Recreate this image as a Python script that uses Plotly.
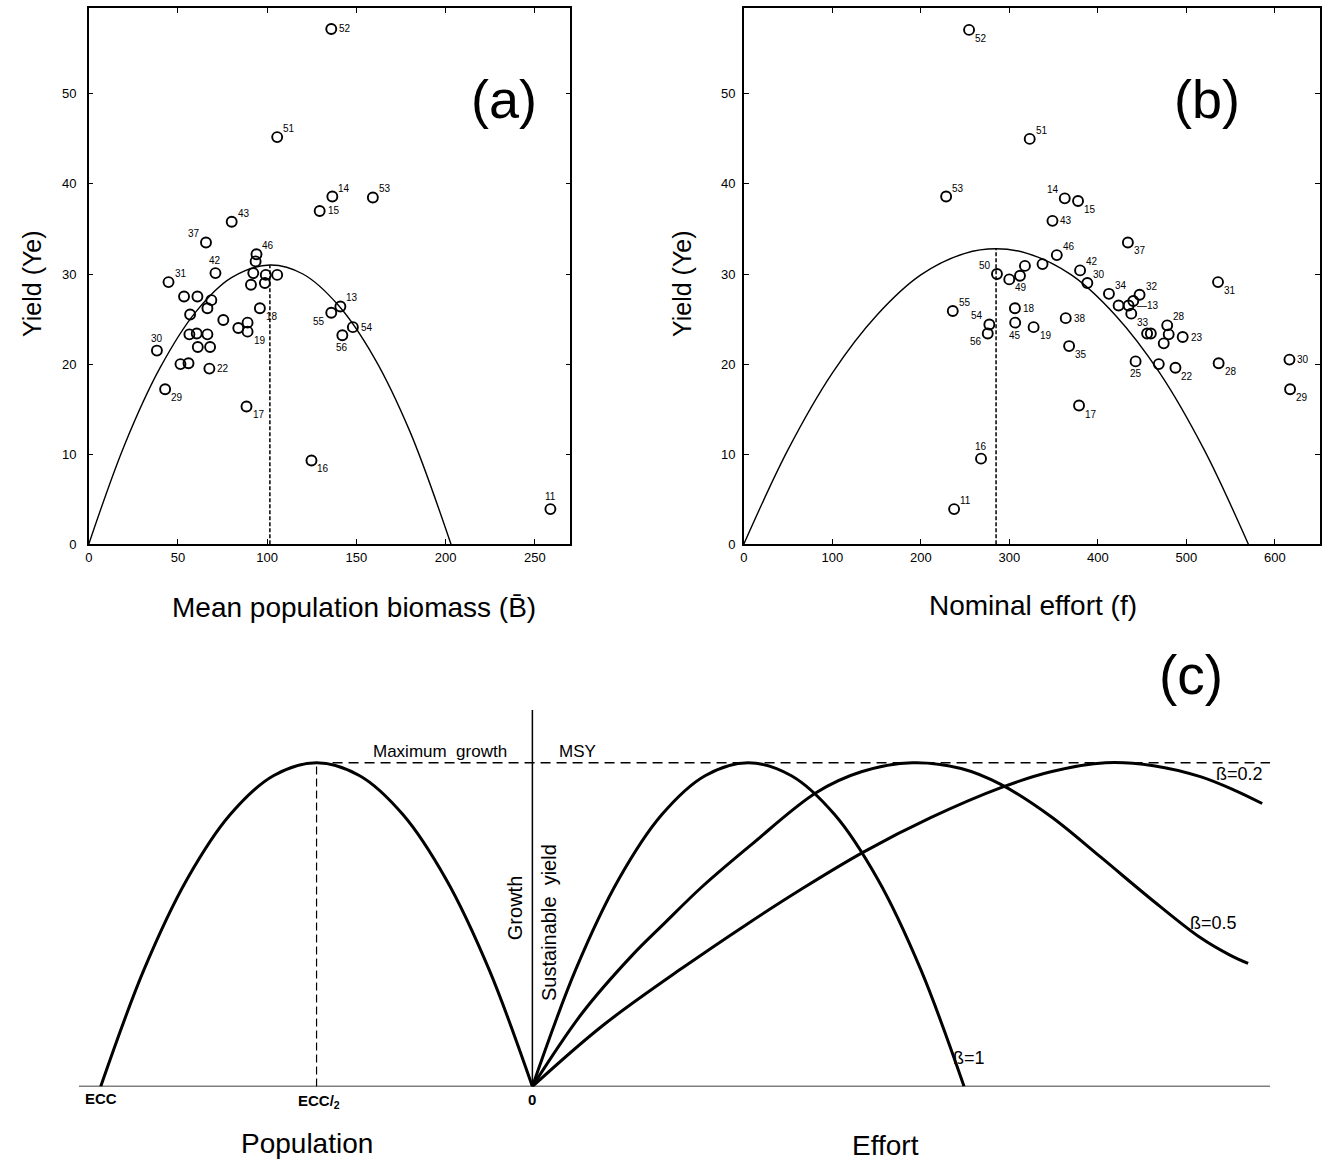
import plotly.graph_objects as go

W, H = 1322, 1167

# ---------------- DATA ----------------
# Panel (a): mean population biomass vs yield
a_x = [135.9, 105.6, 136.5, 129.4, 159.2, 80.1, 65.7, 94.0, 71.0, 93.5, 92.2, 44.7,
       99.2, 105.6, 90.9, 98.7, 53.4, 60.9, 68.7, 66.5, 56.8, 75.4, 95.9, 83.8, 89.0,
       89.0, 56.4, 60.5, 66.5, 61.1, 68.0, 38.2, 51.4, 55.9, 67.6, 42.8, 88.4, 141.0,
       135.9, 148.0, 142.1, 124.8, 258.7, 192.7]
a_y = [57.2, 45.2, 38.6, 37.0, 38.5, 35.8, 33.5, 32.2, 30.1, 31.4, 30.1, 29.1,
       29.9, 29.9, 28.8, 29.0, 27.5, 27.5, 27.1, 26.2, 25.5, 24.9, 26.2, 24.0, 24.6,
       23.6, 23.3, 23.4, 23.3, 21.9, 21.9, 21.5, 20.0, 20.1, 19.5, 17.2, 15.3, 26.4,
       25.7, 24.1, 23.2, 9.3, 3.9, -0.5]
a_lab = ["52", "51", "14", "15", "53", "43", "37", "46", "42", "", "", "31",
         "", "", "", "", "", "", "", "", "", "", "18", "", "",
         "19", "", "", "", "", "", "30", "", "", "22", "29", "17", "13",
         "55", "54", "56", "16", "11", "12"]
# fitted curve (a)
a_curve_x = [0, 20, 40, 60, 80, 101.5, 120, 140, 160, 180, 203]
a_curve_y = [0, 11.0, 19.6, 25.8, 29.6, 31.0, 30.0, 26.5, 20.7, 12.5, 0]
a_peak_x, a_peak_y = 101.5, 31.0

# Panel (b): nominal effort vs yield
b_x = [254.5, 323.0, 228.6, 362.6, 377.6, 348.7, 433.9, 353.6, 337.5, 379.9, 388.1,
       286.0, 317.6, 312.0, 299.9, 412.5, 447.1, 440.0, 423.4, 434.7, 437.7, 236.1,
       306.3, 363.7, 277.4, 275.6, 306.6, 327.4, 455.6, 459.8, 478.3, 480.0, 474.4,
       495.8, 367.5, 442.6, 468.8, 487.6, 535.7, 536.4, 616.4, 617.1, 378.7, 268.0,
       237.6, 341.0]
b_y = [57.1, 45.0, 38.6, 38.4, 38.1, 35.9, 33.5, 32.1, 31.1, 30.4, 29.0,
       30.0, 30.9, 29.8, 29.4, 27.8, 27.7, 27.0, 26.5, 26.5, 25.6, 25.9,
       26.2, 25.1, 24.4, 23.4, 24.6, 24.1, 23.4, 23.4, 24.3, 23.3, 22.3,
       23.0, 22.0, 20.3, 20.0, 19.6, 29.1, 20.1, 20.5, 17.2, 15.4, 9.5,
       3.9, -0.4]
b_lab = ["52", "51", "53", "14", "15", "43", "37", "46", "", "42", "30",
         "50", "", "", "49", "34", "32", "", "", "—13", "33", "55",
         "18", "38", "54", "56", "45", "19", "", "", "28", "", "",
         "23", "35", "25", "", "22", "31", "28", "30", "29", "17", "16",
         "11", "12"]
b_curve_x = [0, 50, 100, 150, 200, 250, 285, 320, 370, 420, 470, 520, 570]
b_curve_y = [0, 10.5, 19.0, 25.4, 29.9, 32.3, 32.8, 32.3, 29.9, 25.4, 19.0, 10.5, 0]
b_peak_x, b_peak_y = 285, 32.8

# Panel (c): schematic (population to the left of 0, effort to the right; MSY = 1)
c_growth_x = [-1.0, -0.9, -0.8, -0.7, -0.6, -0.5, -0.4, -0.3, -0.2, -0.1, 0.0]
c_growth_y = [0.0, 0.36, 0.64, 0.84, 0.96, 1.0, 0.96, 0.84, 0.64, 0.36, 0.0]
c_b1_x = [0.0, 0.1, 0.2, 0.3, 0.4, 0.5, 0.6, 0.7, 0.8, 0.9, 1.0]
c_b1_y = [0.0, 0.36, 0.64, 0.84, 0.96, 1.0, 0.96, 0.84, 0.64, 0.36, 0.0]
c_b05_x = [0.0, 0.1155, 0.231, 0.305, 0.393, 0.508, 0.658, 0.762, 0.880, 0.993, 1.085,
           1.201, 1.316, 1.432, 1.547, 1.617, 1.658]
c_b05_y = [0.0, 0.227, 0.405, 0.503, 0.617, 0.748, 0.908, 0.972, 1.0, 0.982, 0.933,
           0.834, 0.709, 0.580, 0.460, 0.405, 0.380]
c_b02_x = [0.0, 0.1617, 0.3464, 0.4988, 0.6236, 0.7667, 0.9238, 1.0855, 1.2009, 1.3279,
           1.4388, 1.5473, 1.6282, 1.6905]
c_b02_y = [0.0, 0.187, 0.365, 0.503, 0.610, 0.724, 0.831, 0.923, 0.972, 1.0,
           0.991, 0.957, 0.914, 0.874]

a_xticks = [0, 50, 100, 150, 200, 250]
b_xticks = [0, 100, 200, 300, 400, 500, 600]
yticks = [0, 10, 20, 30, 40, 50]

# ---------------- LAYOUT HELPERS ----------------
def px_x(p):
    return p / W

def px_y(p):
    return 1 - p / H

A_L, A_R, TOP, BOT = 85, 568, 8, 548
B_L, B_R = 742, 1320
AX_SCALE = 1.79      # px per unit, panel a
BX_SCALE = 0.888     # px per unit, panel b
Y_SCALE = 9.07       # px per unit, panels a, b
C_L, C_R, C_O, C_UNIT = 75, 1270, 530, 433
C_BASE, C_TOP, C_YUNIT = 1094, 715, 326

fig = go.Figure()

mk = dict(symbol="circle-open", size=10, color="black", line=dict(width=1.9, color="black"))
curve_line = dict(color="black", width=1.4, shape="spline")

# panel a
fig.add_trace(go.Scatter(x=a_curve_x, y=a_curve_y, mode="lines", line=curve_line,
                         xaxis="x", yaxis="y", hoverinfo="skip"))
fig.add_trace(go.Scatter(x=[a_peak_x, a_peak_x], y=[0, a_peak_y], mode="lines",
                         line=dict(color="black", width=1.5, dash="4px,2px"), xaxis="x", yaxis="y"))
fig.add_trace(go.Scatter(x=a_x, y=a_y, mode="markers", marker=mk, cliponaxis=False,
                         xaxis="x", yaxis="y"))
# panel b
fig.add_trace(go.Scatter(x=b_curve_x, y=b_curve_y, mode="lines", line=curve_line,
                         xaxis="x2", yaxis="y2", hoverinfo="skip"))
fig.add_trace(go.Scatter(x=[b_peak_x, b_peak_x], y=[0, b_peak_y], mode="lines",
                         line=dict(color="black", width=1.5, dash="4px,2px"), xaxis="x2", yaxis="y2"))
fig.add_trace(go.Scatter(x=b_x, y=b_y, mode="markers", marker=mk, cliponaxis=False,
                         xaxis="x2", yaxis="y2"))

# panel c
thick = dict(color="black", width=3, shape="spline", smoothing=1.0)
for cx, cy in [(c_growth_x, c_growth_y), (c_b1_x, c_b1_y), (c_b05_x, c_b05_y), (c_b02_x, c_b02_y)]:
    fig.add_trace(go.Scatter(x=cx, y=cy, mode="lines", line=thick, xaxis="x3", yaxis="y3",
                             cliponaxis=False))

c_xmin = (C_L - C_O) / C_UNIT
c_xmax = (C_R - C_O) / C_UNIT
c_ymax = (C_BASE - C_TOP) / C_YUNIT
shapes = [
    dict(type="line", xref="x3", yref="y3", x0=c_xmin, x1=c_xmax, y0=0, y1=0,
         line=dict(color="black", width=1.5)),
    dict(type="line", xref="x3", yref="y3", x0=0, x1=0, y0=0, y1=c_ymax,
         line=dict(color="black", width=1.5)),
    dict(type="line", xref="x3", yref="y3", x0=-0.5, x1=c_xmax, y0=1, y1=1,
         line=dict(color="black", width=1.5, dash="10px,6px")),
    dict(type="line", xref="x3", yref="y3", x0=-0.5, x1=-0.5, y0=0, y1=1,
         line=dict(color="black", width=1.2, dash="8px,4px")),
]

annotations = []
lab_font = dict(family="Arial", size=10, color="black")
offs = {
    "tr": dict(xanchor="left", yanchor="bottom", xshift=4, yshift=1),
    "r": dict(xanchor="left", yanchor="middle", xshift=6, yshift=0),
    "br": dict(xanchor="left", yanchor="top", xshift=4, yshift=-1),
    "t": dict(xanchor="center", yanchor="bottom", xshift=0, yshift=5),
    "b": dict(xanchor="center", yanchor="top", xshift=0, yshift=-5),
    "tl": dict(xanchor="right", yanchor="bottom", xshift=-4, yshift=1),
    "bl": dict(xanchor="right", yanchor="top", xshift=-4, yshift=-1),
}
a_pos = {"52": "r", "51": "tr", "14": "tr", "15": "r", "53": "tr", "43": "tr", "37": "tl",
         "46": "tr", "42": "t", "31": "tr", "18": "br", "19": "br", "30": "t", "22": "r",
         "29": "br", "17": "br", "13": "tr", "55": "bl", "54": "r", "56": "b", "16": "br",
         "11": "t", "12": "tl"}
for x, y, l in zip(a_x, a_y, a_lab):
    if l:
        annotations.append(dict(x=x, y=y, xref="x", yref="y", text=l, showarrow=False,
                                font=lab_font, **offs[a_pos[l]]))
b_pos = ["br", "tr", "tr", "tl", "br", "r", "br", "tr", "", "tr", "tr",
         "tl", "", "", "br", "tr", "tr", "", "", "r", "br", "tr",
         "r", "r", "tl", "bl", "b", "br", "", "", "tr", "", "",
         "r", "br", "b", "", "br", "br", "br", "r", "br", "br", "t",
         "tr", "t"]
for x, y, l, p in zip(b_x, b_y, b_lab, b_pos):
    if l:
        annotations.append(dict(x=x, y=y, xref="x2", yref="y2", text=l, showarrow=False,
                                font=lab_font, **offs[p]))

def ann_px(px, py, text, size, rot=0, xanchor="center", yanchor="middle", family="Arial"):
    annotations.append(dict(x=px_x(px), y=px_y(py), xref="paper", yref="paper", text=text,
                            showarrow=False, textangle=rot, xanchor=xanchor, yanchor=yanchor,
                            font=dict(family=family, size=size, color="black")))

# axis titles and panel letters
ann_px(28, 285, "Yield (Ye)", 25, rot=-90)
ann_px(351, 612, "Mean population biomass (B\u0304)", 28)
ann_px(680, 285, "Yield (Ye)", 25, rot=-90)
ann_px(1032, 610, "Nominal effort (f)", 28)
ann_px(502, 100, "(a)", 54)
ann_px(1207, 100, "(b)", 54)
ann_px(1191, 680, "(c)", 55)

# panel c labels
ann_px(437, 757, "Maximum  growth", 17)
ann_px(575, 757, "MSY", 17)
ann_px(512, 914, "Growth", 20, rot=-90)
ann_px(546, 929, "Sustainable  yield", 20, rot=-90)
ann_px(97, 1106, "<b>ECC</b>", 15)
ann_px(316, 1109, "<b>ECC/<sub>2</sub></b>", 15)
ann_px(530, 1107, "<b>0</b>", 15)
ann_px(968, 1065, "ß=1", 18)
ann_px(1213, 929, "ß=0.5", 18)
ann_px(1239, 779, "ß=0.2", 18)
ann_px(304, 1151, "Population", 28)
ann_px(884, 1153, "Effort", 28)

axis_common = dict(showgrid=False, zeroline=False, showline=True, linecolor="black",
                   linewidth=1.5, ticks="inside", ticklen=5, tickcolor="black",
                   tickfont=dict(family="Arial", size=13, color="black"))

fig.update_layout(
    width=W, height=H, margin=dict(l=0, r=0, t=0, b=0),
    paper_bgcolor="white", plot_bgcolor="white", showlegend=False,
    xaxis=dict(domain=[px_x(A_L), px_x(A_R)], range=[0, (A_R - A_L) / AX_SCALE],
               tickvals=a_xticks, mirror="ticks", anchor="y", **axis_common),
    yaxis=dict(domain=[px_y(BOT), px_y(TOP)], range=[0, (BOT - TOP) / Y_SCALE],
               tickvals=yticks, mirror="ticks", anchor="x", ticklabelstandoff=8, **axis_common),
    xaxis2=dict(domain=[px_x(B_L), px_x(B_R)], range=[0, (B_R - B_L) / BX_SCALE],
                tickvals=b_xticks, mirror="ticks", anchor="y2", **axis_common),
    yaxis2=dict(domain=[px_y(BOT), px_y(TOP)], range=[0, (BOT - TOP) / Y_SCALE],
                tickvals=yticks, mirror="ticks", anchor="x2", ticklabelstandoff=4, **axis_common),
    xaxis3=dict(domain=[px_x(C_L), px_x(C_R)], range=[c_xmin, c_xmax], visible=False,
                anchor="y3"),
    yaxis3=dict(domain=[px_y(C_BASE), px_y(C_TOP)], range=[0, c_ymax], visible=False,
                anchor="x3"),
    shapes=shapes, annotations=annotations,
)

fig.write_html("out.html", config={"displayModeBar": False},
               post_script="document.body.style.margin='0';document.body.style.overflow='hidden';")
